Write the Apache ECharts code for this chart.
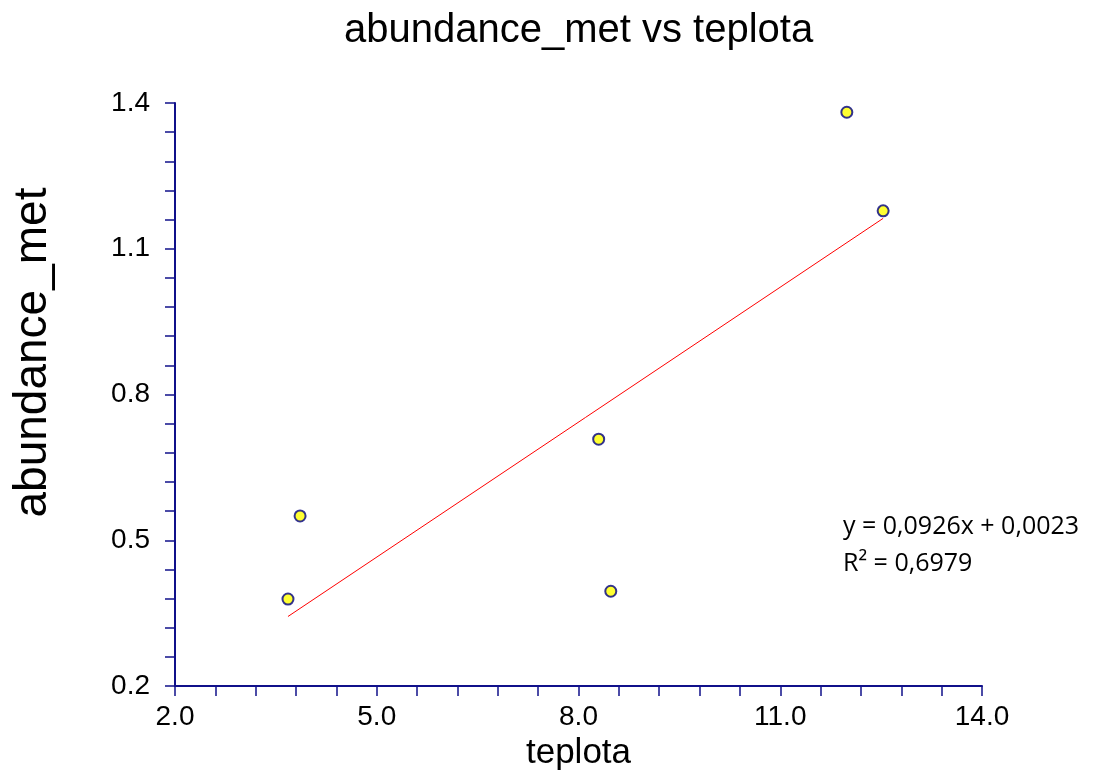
<!DOCTYPE html>
<html>
<head>
<meta charset="utf-8">
<script src="https://cdn.jsdelivr.net/npm/echarts@6/dist/echarts.min.js"></script>
<style>html,body{margin:0;padding:0;background:#fff;}#c{width:1099px;height:782px;}</style>
</head>
<body>
<div id="c"></div>
<script>
const teplota = [3.68, 3.86, 8.30, 8.48, 11.99, 12.53];
const abundanceMet = [0.379, 0.550, 0.708, 0.395, 1.381, 1.178];
const trendSlope = 0.0926;
const trendIntercept = 0.0023;
const equationLines = ['y = 0,0926x + 0,0023', 'R² = 0,6979'];
const xTicks = {min: 2.0, max: 14.0, interval: 3.0};
const yTicks = {min: 0.2, max: 1.4, interval: 0.3};

const points = teplota.map((x, i) => [x, abundanceMet[i]]);
const xMin = Math.min(...teplota), xMax = Math.max(...teplota);
const trend = [[xMin, trendSlope * xMin + trendIntercept], [xMax, trendSlope * xMax + trendIntercept]];

const axisColor = '#10108a';
const chart = echarts.init(document.getElementById('c'), null, {renderer: 'canvas'});
chart.setOption({
  backgroundColor: '#ffffff',
  animation: false,
  title: {
    text: 'abundance_met vs teplota',
    left: 339, top: 6,
    textStyle: {fontFamily: 'Liberation Sans', fontSize: 40, fontWeight: 'normal', color: '#000'}
  },
  grid: {left: 175, right: 117, top: 103, bottom: 96, containLabel: false, outerBoundsMode: 'none'},
  xAxis: {
    type: 'value', min: xTicks.min, max: xTicks.max, interval: xTicks.interval,
    name: 'teplota', nameLocation: 'middle', nameGap: 48,
    nameTextStyle: {fontFamily: 'Liberation Sans', fontSize: 35, color: '#000'},
    axisLine: {show: true, lineStyle: {color: axisColor, width: 2}},
    axisTick: {show: true, inside: false, length: 10, lineStyle: {color: axisColor, width: 1.5}},
    minorTick: {show: true, splitNumber: 5, length: 10, lineStyle: {color: axisColor, width: 1.5}},
    splitLine: {show: false},
    axisLabel: {fontFamily: 'Liberation Sans', fontSize: 28, color: '#000', margin: 17,
      formatter: v => v.toFixed(1)}
  },
  yAxis: {
    type: 'value', min: yTicks.min, max: yTicks.max, interval: yTicks.interval,
    name: 'abundance_met', nameLocation: 'middle', nameGap: 119,
    nameTextStyle: {fontFamily: 'Liberation Sans', fontSize: 46, color: '#000', padding: [0, 0, 0, 84]},
    axisLine: {show: true, lineStyle: {color: axisColor, width: 2}},
    axisTick: {show: true, inside: false, length: 10, lineStyle: {color: axisColor, width: 1.5}},
    minorTick: {show: true, splitNumber: 5, length: 10, lineStyle: {color: axisColor, width: 1.5}},
    splitLine: {show: false},
    axisLabel: {fontFamily: 'Liberation Sans', fontSize: 28, color: '#000', margin: 25,
      formatter: v => v.toFixed(1)}
  },
  series: [
    {
      type: 'line', data: trend, symbol: 'none', silent: true,
      lineStyle: {color: '#ff0000', width: 1}, z: 2
    },
    {
      type: 'scatter', data: points, symbol: 'circle', symbolSize: 11,
      itemStyle: {color: '#ffff00', borderColor: '#000080', borderWidth: 2}, z: 3
    }
  ],
  graphic: [
    {type: 'text', left: 843, top: 514, style: {text: equationLines[0], fontFamily: 'Open Sans', fontSize: 25, fill: '#000'}},
    {type: 'text', left: 843, top: 551, style: {text: equationLines[1], fontFamily: 'Open Sans', fontSize: 25, fill: '#000'}}
  ]
});
</script>
</body>
</html>
